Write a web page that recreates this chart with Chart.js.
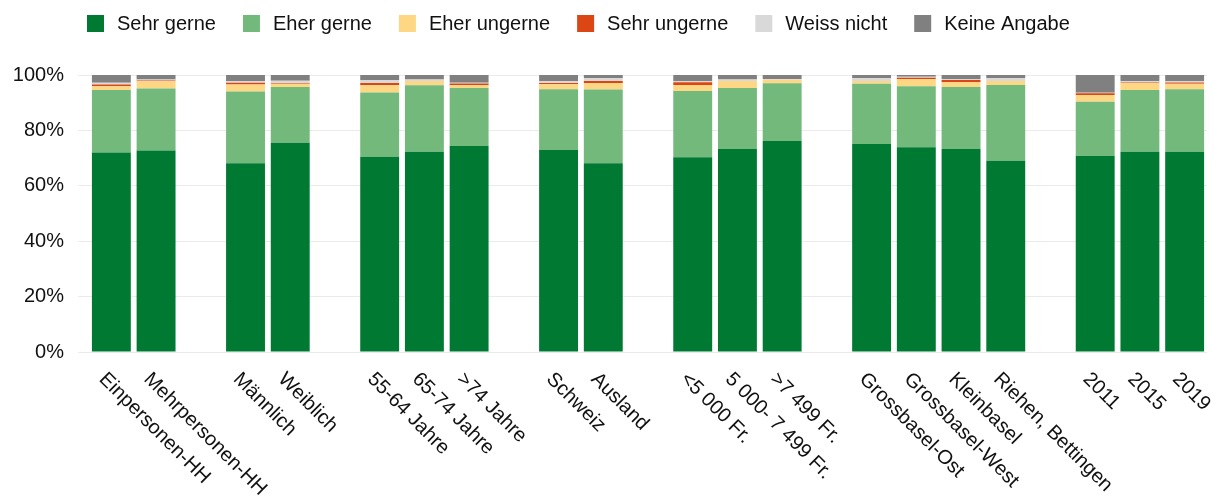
<!DOCTYPE html>
<html>
<head>
<meta charset="utf-8">
<script src="https://cdn.jsdelivr.net/npm/chart.js@4.4.1/dist/chart.umd.min.js"></script>
<style>
  html, body { margin: 0; padding: 0; background: #fff; overflow: hidden; }
  canvas { display: block; }
</style>
</head>
<body>
<canvas id="chartCanvas" width="1214" height="501"></canvas>
<script>
// categories ('' = spacer between groups)
const categories = [
    'Einpersonen-HH', 'Mehrpersonen-HH', '',
    'Männlich', 'Weiblich', '',
    '55-64 Jahre', '65-74 Jahre', '>74 Jahre', '',
    'Schweiz', 'Ausland', '',
    '<5 000 Fr.', '5 000- 7 499 Fr.', '>7 499 Fr.', '',
    'Grossbasel-Ost', 'Grossbasel-West', 'Kleinbasel', 'Riehen, Bettingen', '',
    '2011', '2015', '2019'
];

const sehrGerne = [72.0, 72.7, null, 68.1, 75.5, null, 70.5, 72.3, 74.4, null, 72.9, 68.1, null,
    70.3, 73.3, 76.2, null, 75.1, 73.9, 73.3, 69.0, null, 70.8, 72.3, 72.3];
const eherGerne = [22.6, 22.4, null, 25.9, 20.2, null, 23.2, 24.0, 20.9, null, 22.0, 26.7, null,
    23.9, 22.0, 20.8, null, 21.7, 22.0, 22.4, 27.4, null, 19.5, 22.3, 22.6];
const eherUngerne = [1.3, 2.6, null, 2.6, 1.1, null, 2.6, 1.5, 1.0, null, 1.8, 2.3, null,
    2.2, 2.5, 1.3, null, 1.0, 2.7, 1.7, 1.4, null, 2.5, 2.5, 1.9];
const sehrUngerne = [0.7, 0.3, null, 0.6, 0.3, null, 0.8, 0, 0.6, null, 0.4, 0.7, null,
    1.0, 0, 0, null, 0, 0.4, 0.8, 0, null, 0.6, 0.2, 0.5];
const weissNicht = [0.6, 0.4, null, 0.6, 0.8, null, 1.1, 0.6, 0.3, null, 0.7, 1.1, null,
    0.4, 0.6, 0.3, null, 1.1, 0.4, 0.4, 1.1, null, 0.2, 0.5, 0.5];
const keineAngabe = [2.8, 1.6, null, 2.2, 2.1, null, 1.8, 1.6, 2.8, null, 2.2, 1.1, null,
    2.2, 1.6, 1.4, null, 1.1, 0.6, 1.4, 1.1, null, 6.4, 2.2, 2.2];

const yTicks = [0, 20, 40, 60, 80, 100];

const FONT = "'Liberation Sans', Arial, sans-serif";

function ds(label, data, color) {
    return {
        label: label,
        data: data,
        backgroundColor: color,
        borderWidth: 0,
        barPercentage: 0.87,
        categoryPercentage: 1.0
    };
}

// draws the legend and the 45° rotated category labels
const customText = {
    id: 'customText',
    afterDraw(chart) {
        const ctx = chart.ctx;
        ctx.save();
        // legend
        ctx.font = '20px ' + FONT;
        ctx.textBaseline = 'middle';
        ctx.textAlign = 'left';
        let x = 87;
        chart.data.datasets.forEach(function (d) {
            ctx.fillStyle = d.backgroundColor;
            ctx.fillRect(x, 15, 17, 17);
            ctx.fillStyle = '#111';
            ctx.fillText(d.label, x + 30, 24);
            x += 30 + ctx.measureText(d.label).width + 27;
        });
        // category labels
        const xs = chart.scales.x;
        ctx.font = '20px ' + FONT;
        ctx.textBaseline = 'alphabetic';
        ctx.fillStyle = '#111';
        categories.forEach(function (c, i) {
            if (!c) return;
            const px = xs.getPixelForValue(i);
            ctx.save();
            ctx.translate(px - 13, 380);
            ctx.rotate(Math.PI / 4);
            ctx.fillText(c, 0, 0);
            ctx.restore();
        });
        ctx.restore();
    }
};

const ctx = document.getElementById('chartCanvas').getContext('2d');

new Chart(ctx, {
    type: 'bar',
    data: {
        labels: categories,
        datasets: [
            ds('Sehr gerne', sehrGerne, '#007a33'),
            ds('Eher gerne', eherGerne, '#74b97c'),
            ds('Eher ungerne', eherUngerne, '#fdd783'),
            ds('Sehr ungerne', sehrUngerne, '#dc4614'),
            ds('Weiss nicht', weissNicht, '#d9d9d9'),
            ds('Keine Angabe', keineAngabe, '#808080')
        ]
    },
    options: {
        responsive: false,
        animation: false,
        layout: {
            padding: { top: 75, right: 7, left: 0, bottom: 0 }
        },
        scales: {
            x: {
                stacked: true,
                grid: { display: false },
                border: { display: false },
                ticks: { display: false },
                afterFit: function (axis) { axis.height = 149; }
            },
            y: {
                stacked: true,
                min: 0,
                max: 100,
                afterBuildTicks: function (axis) {
                    axis.ticks = yTicks.map(function (v) { return { value: v }; });
                },
                afterFit: function (axis) { axis.width = 89; },
                border: { display: false },
                grid: { color: '#ebebeb', lineWidth: 1, drawTicks: true, tickLength: 11 },
                ticks: {
                    padding: 14,
                    color: '#111',
                    font: { family: FONT, size: 20 },
                    callback: function (v) { return v + '%'; }
                }
            }
        },
        plugins: {
            legend: { display: false },
            tooltip: { enabled: false }
        }
    },
    plugins: [customText]
});
</script>
</body>
</html>
